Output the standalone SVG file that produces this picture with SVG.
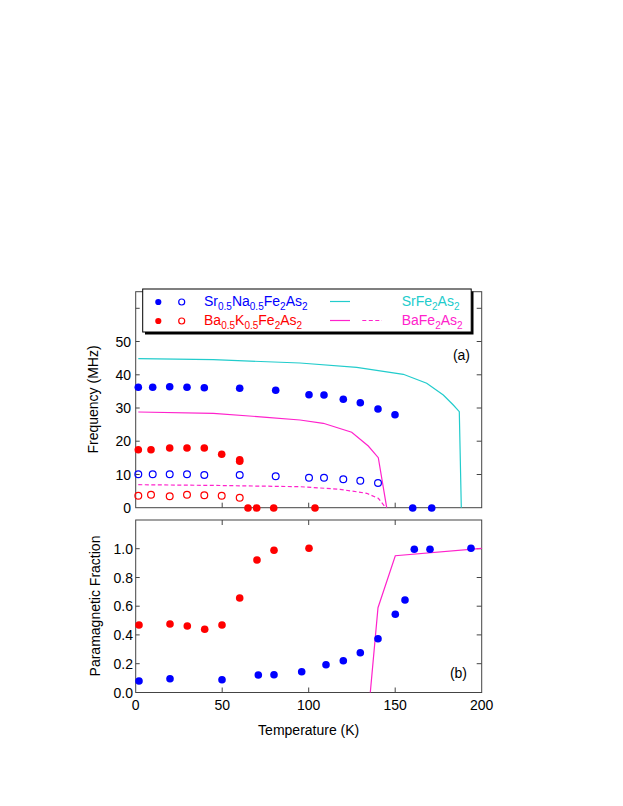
<svg xmlns="http://www.w3.org/2000/svg" width="623" height="806" viewBox="0 0 623 806">
<style>
text{font-family:"Liberation Sans",Arial,sans-serif;font-size:14px;fill:#000}
.frame{fill:none;stroke:#444;stroke-width:1}
.tick{stroke:#444;stroke-width:1}
.ylab{text-anchor:end}
.xlab{text-anchor:middle}
.sf{fill:#0000ff}
.so{fill:none;stroke:#0000ff;stroke-width:1.2}
.bf{fill:#ff0000}
.bo{fill:none;stroke:#ff0000;stroke-width:1.2}
.cy{fill:none;stroke:#22cccc;stroke-width:1.2}
.mg{fill:none;stroke:#ff22cc;stroke-width:1.2}
.dash{stroke-dasharray:4 2.5}
.sub{font-size:10px}
</style>
<rect width="623" height="806" fill="#fff"/>

<g id="panel-a-axes">
<rect class="frame" x="135.7" y="291.7" width="346" height="216"/>
<path class="tick" d="M135.7 474.5h4M135.7 441.2h4M135.7 408h4M135.7 374.8h4M135.7 341.5h4M135.7 308.3h4M481.7 474.5h-5M481.7 441.2h-5M481.7 408h-5M481.7 374.8h-5M481.7 341.5h-5M481.7 308.3h-5M222.2 507.7v-5M308.7 507.7v-5M395.2 507.7v-5"/>
<text class="ylab" x="131" y="512.7">0</text>
<text class="ylab" x="131" y="479.5">10</text>
<text class="ylab" x="131" y="446.2">20</text>
<text class="ylab" x="131" y="413">30</text>
<text class="ylab" x="131" y="379.8">40</text>
<text class="ylab" x="131" y="346.5">50</text>
<text transform="translate(97.5,399.5) rotate(-90)" text-anchor="middle">Frequency (MHz)</text>
<text x="470" y="359.5" text-anchor="end">(a)</text>
</g>

<g id="panel-b-axes">
<rect class="frame" x="135.7" y="520" width="346" height="172.5"/>
<path class="tick" d="M135.7 663.7h4M135.7 634.9h4M135.7 606.2h4M135.7 577.5h4M135.7 548.7h4M481.7 663.7h-5M481.7 634.9h-5M481.7 606.2h-5M481.7 577.5h-5M481.7 548.7h-5M222.2 520v5M308.7 520v5M395.2 520v5M222.2 692.5v-5M308.7 692.5v-5M395.2 692.5v-5"/>
<text class="ylab" x="133" y="697.5">0.0</text>
<text class="ylab" x="133" y="668.7">0.2</text>
<text class="ylab" x="133" y="639.9">0.4</text>
<text class="ylab" x="133" y="611.2">0.6</text>
<text class="ylab" x="133" y="582.5">0.8</text>
<text class="ylab" x="133" y="553.7">1.0</text>
<text class="xlab" x="135.7" y="710">0</text>
<text class="xlab" x="222.2" y="710">50</text>
<text class="xlab" x="308.7" y="710">100</text>
<text class="xlab" x="395.2" y="710">150</text>
<text class="xlab" x="481.7" y="710">200</text>
<text transform="translate(100,606) rotate(-90)" text-anchor="middle">Paramagnetic Fraction</text>
<text x="308.7" y="735" text-anchor="middle">Temperature (K)</text>
<text x="467" y="677.5" text-anchor="end">(b)</text>
</g>

<g id="connectors">
<polyline class="cy" points="138.3,358.7 213.3,359.7 300,363 356.7,367.3 403.3,374.3 426.7,383.3 443.3,395 453.3,405 459.3,411.7 461.3,507.7"/>
<polyline class="mg" points="138.3,412 213.3,413.3 266.7,417.3 300,420 323.3,423.3 351.7,432.3 368.3,446 378.3,457.7 386.7,507.7"/>
<polyline class="mg dash" points="138.3,484.7 220,485.5 300,486.7 340,489.3 366.7,493.3 378.3,498.3 385,506.7"/>
<polyline class="mg" points="370.3,692.5 378,607.7 395.3,555.7 481.7,548.3"/>
</g>

<g id="sr-filled-a">
<circle class="sf" cx="138.3" cy="387.3" r="3.8"/><circle class="sf" cx="152.7" cy="387.3" r="3.8"/><circle class="sf" cx="169.7" cy="386.7" r="3.8"/><circle class="sf" cx="187" cy="387.3" r="3.8"/><circle class="sf" cx="204.3" cy="387.7" r="3.8"/><circle class="sf" cx="239.7" cy="388.3" r="3.8"/><circle class="sf" cx="275.7" cy="390.3" r="3.8"/><circle class="sf" cx="309" cy="394.7" r="3.8"/><circle class="sf" cx="324" cy="395" r="3.8"/><circle class="sf" cx="343.3" cy="399.3" r="3.8"/><circle class="sf" cx="360.3" cy="402.7" r="3.8"/><circle class="sf" cx="378" cy="409" r="3.8"/><circle class="sf" cx="395" cy="414.7" r="3.8"/><circle class="sf" cx="412.7" cy="508" r="3.8"/><circle class="sf" cx="431.7" cy="508" r="3.8"/>
</g>
<g id="sr-open-a">
<circle class="so" cx="138.3" cy="474.3" r="3.4"/><circle class="so" cx="152.7" cy="474.3" r="3.4"/><circle class="so" cx="169.7" cy="474.3" r="3.4"/><circle class="so" cx="187" cy="474.3" r="3.4"/><circle class="so" cx="204.3" cy="475" r="3.4"/><circle class="so" cx="239.7" cy="475" r="3.4"/><circle class="so" cx="275.7" cy="476.3" r="3.4"/><circle class="so" cx="309" cy="477.7" r="3.4"/><circle class="so" cx="324" cy="477.7" r="3.4"/><circle class="so" cx="343.3" cy="479.3" r="3.4"/><circle class="so" cx="360.3" cy="480.7" r="3.4"/><circle class="so" cx="378" cy="483" r="3.4"/>
</g>
<g id="ba-filled-a">
<circle class="bf" cx="138.3" cy="449.7" r="3.8"/><circle class="bf" cx="151" cy="449.7" r="3.8"/><circle class="bf" cx="169.7" cy="448" r="3.8"/><circle class="bf" cx="187" cy="448" r="3.8"/><circle class="bf" cx="204.3" cy="448" r="3.8"/><circle class="bf" cx="221.7" cy="454.3" r="3.8"/><circle class="bf" cx="239.7" cy="459.8" r="3.8"/><circle class="bf" cx="239.7" cy="461.2" r="3.8"/><circle class="bf" cx="248" cy="508" r="3.8"/><circle class="bf" cx="256.7" cy="508" r="3.8"/><circle class="bf" cx="273.7" cy="508" r="3.8"/><circle class="bf" cx="315" cy="508" r="3.8"/>
</g>
<g id="ba-open-a">
<circle class="bo" cx="138.3" cy="495.7" r="3.4"/><circle class="bo" cx="151" cy="494.7" r="3.4"/><circle class="bo" cx="169.7" cy="496.3" r="3.4"/><circle class="bo" cx="187" cy="494.7" r="3.4"/><circle class="bo" cx="204.3" cy="495.3" r="3.4"/><circle class="bo" cx="221.7" cy="495.7" r="3.4"/><circle class="bo" cx="239.7" cy="497.7" r="3.4"/>
</g>
<g id="ba-b">
<circle class="bf" cx="139" cy="625" r="3.8"/><circle class="bf" cx="170" cy="624" r="3.8"/><circle class="bf" cx="187.3" cy="626" r="3.8"/><circle class="bf" cx="204.7" cy="629.3" r="3.8"/><circle class="bf" cx="222" cy="625" r="3.8"/><circle class="bf" cx="239.7" cy="598" r="3.8"/><circle class="bf" cx="257" cy="560" r="3.8"/><circle class="bf" cx="274" cy="550.3" r="3.8"/><circle class="bf" cx="309" cy="548.3" r="3.8"/>
</g>
<g id="sr-b">
<circle class="sf" cx="139" cy="681" r="3.8"/><circle class="sf" cx="170" cy="678.7" r="3.8"/><circle class="sf" cx="222" cy="679.7" r="3.8"/><circle class="sf" cx="258.3" cy="675" r="3.8"/><circle class="sf" cx="274" cy="674.7" r="3.8"/><circle class="sf" cx="301.7" cy="671.7" r="3.8"/><circle class="sf" cx="326" cy="664.7" r="3.8"/><circle class="sf" cx="343.3" cy="660.7" r="3.8"/><circle class="sf" cx="360.3" cy="652.7" r="3.8"/><circle class="sf" cx="378" cy="638.7" r="3.8"/><circle class="sf" cx="395.3" cy="614.3" r="3.8"/><circle class="sf" cx="405" cy="600" r="3.8"/><circle class="sf" cx="414.3" cy="549.3" r="3.8"/><circle class="sf" cx="430" cy="549.3" r="3.8"/><circle class="sf" cx="471" cy="548.3" r="3.8"/>
</g>

<g id="legend">
<rect x="145" y="291.5" width="328.5" height="43" fill="#000"/>
<rect x="142.7" y="289" width="328.5" height="43" fill="#fff" stroke="#000" stroke-width="1"/>
<circle class="sf" cx="158.3" cy="302" r="3.1"/>
<circle class="so" cx="181.7" cy="302" r="3"/>
<circle class="bf" cx="158.3" cy="321" r="3.1"/>
<circle class="bo" cx="181.7" cy="321" r="3"/>
<text x="204" y="306" style="fill:#0000ff">Sr<tspan class="sub" dy="3.5">0.5</tspan><tspan dy="-3.5">Na</tspan><tspan class="sub" dy="3.5">0.5</tspan><tspan dy="-3.5">Fe</tspan><tspan class="sub" dy="3.5">2</tspan><tspan dy="-3.5">As</tspan><tspan class="sub" dy="3.5">2</tspan></text>
<text x="204" y="325" style="fill:#ff0000">Ba<tspan class="sub" dy="3.5">0.5</tspan><tspan dy="-3.5">K</tspan><tspan class="sub" dy="3.5">0.5</tspan><tspan dy="-3.5">Fe</tspan><tspan class="sub" dy="3.5">2</tspan><tspan dy="-3.5">As</tspan><tspan class="sub" dy="3.5">2</tspan></text>
<line class="cy" x1="330" y1="301.5" x2="350" y2="301.5"/>
<line class="mg" x1="330" y1="320.5" x2="350" y2="320.5"/>
<line class="mg dash" x1="362.3" y1="320.5" x2="382" y2="320.5"/>
<text x="401.7" y="306" style="fill:#22cccc">SrFe<tspan class="sub" dy="3.5">2</tspan><tspan dy="-3.5">As</tspan><tspan class="sub" dy="3.5">2</tspan></text>
<text x="401.7" y="325" style="fill:#ff22cc">BaFe<tspan class="sub" dy="3.5">2</tspan><tspan dy="-3.5">As</tspan><tspan class="sub" dy="3.5">2</tspan></text>
</g>
</svg>
